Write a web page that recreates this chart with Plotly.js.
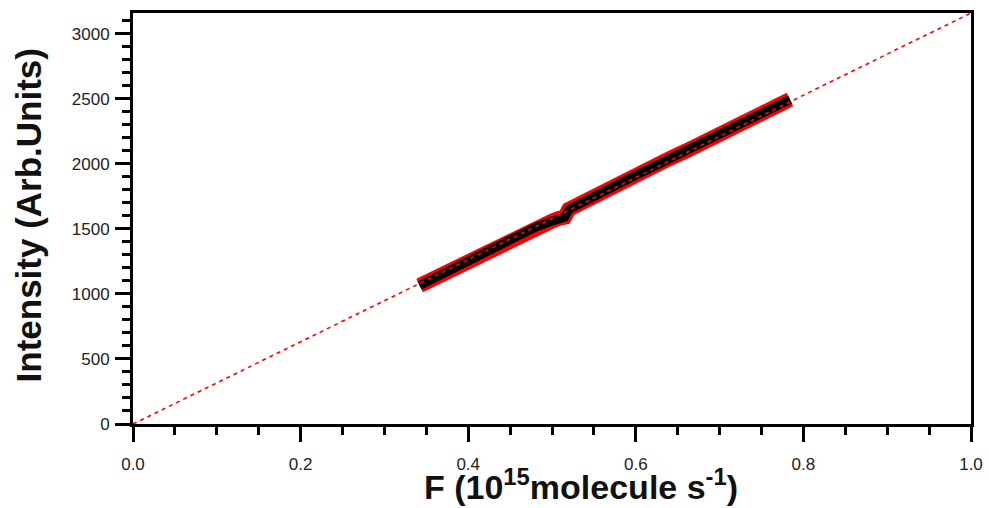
<!DOCTYPE html>
<html>
<head>
<meta charset="utf-8">
<script src="https://cdn.plot.ly/plotly-3.0.1.min.js"></script>
<style>html,body{margin:0;padding:0;background:#fff;}#chart{width:989px;height:508px;}</style>
</head>
<body>
<div id="chart"></div>
<script>
// Measured data (F in 10^15 molecule/s, intensity in arb. units)
var fluxValues = [0.342, 0.36, 0.38, 0.40, 0.42, 0.44, 0.46, 0.48, 0.50, 0.508, 0.515, 0.52, 0.54, 0.56, 0.58, 0.60, 0.62, 0.64, 0.66, 0.68, 0.70, 0.72, 0.74, 0.76, 0.784];
var intensityValues = [1065, 1125, 1185, 1250, 1315, 1380, 1445, 1512, 1560, 1580, 1590, 1650, 1720, 1790, 1850, 1912, 1975, 2040, 2100, 2165, 2225, 2290, 2350, 2415, 2495];
// Linear fit through origin
var fitX = [0, 1];
var fitY = [0, 3160];
var xTickVals = [0, 0.2, 0.4, 0.6, 0.8, 1.0];
var xTickText = ["0.0", "0.2", "0.4", "0.6", "0.8", "1.0"];
var yTickVals = [0, 500, 1000, 1500, 2000, 2500, 3000];

var font = "Liberation Sans, Arial, sans-serif";

var traces = [
  {x: fluxValues, y: intensityValues, mode: "lines", line: {color: "#ff0000", width: 15}, hoverinfo: "skip", showlegend: false},
  {x: fluxValues, y: intensityValues, mode: "lines", line: {color: "#000000", width: 9}, hoverinfo: "skip", showlegend: false},
  {x: fitX, y: fitY, mode: "lines", line: {color: "#ff0000", width: 1.6, dash: "4px,4px"}, hoverinfo: "skip", showlegend: false, cliponaxis: false}
];

var axisCommon = {
  showline: true, linecolor: "#000", linewidth: 3, mirror: true,
  showgrid: false, zeroline: false,
  ticks: "outside", tickcolor: "#000", tickwidth: 3, ticklen: 15,
  tickfont: {family: font, size: 17, color: "#222"}
};

var layout = {
  width: 989, height: 508,
  margin: {l: 133, r: 18, t: 13, b: 84},
  paper_bgcolor: "#fff", plot_bgcolor: "#fff",
  xaxis: Object.assign({}, axisCommon, {
    range: [0, 1], tickvals: xTickVals, ticktext: xTickText, ticklabelstandoff: 8,
    minor: {dtick: 0.05, tick0: 0, ticks: "outside", ticklen: 8, tickwidth: 3, tickcolor: "#000"}
  }),
  yaxis: Object.assign({}, axisCommon, {
    range: [0, 3160], tickvals: yTickVals, ticklabelstandoff: 2,
    minor: {dtick: 100, tick0: 0, ticks: "outside", ticklen: 8, tickwidth: 3, tickcolor: "#000"}
  }),
  annotations: [
    {text: "F (10<sup>15</sup>molecule s<sup>-1</sup>)", xref: "paper", yref: "paper",
     x: 0.535, y: -0.148, xanchor: "center", yanchor: "middle", showarrow: false,
     font: {family: font, size: 34, color: "#111", weight: "bold"}},
    {text: "Intensity (Arb.Units)", xref: "paper", yref: "paper",
     x: -0.125, y: 0.508, xanchor: "center", yanchor: "middle", textangle: -90, showarrow: false,
     font: {family: font, size: 35, color: "#111", weight: "bold"}}
  ]
};

Plotly.newPlot("chart", traces, layout, {staticPlot: true});
</script>
</body>
</html>
